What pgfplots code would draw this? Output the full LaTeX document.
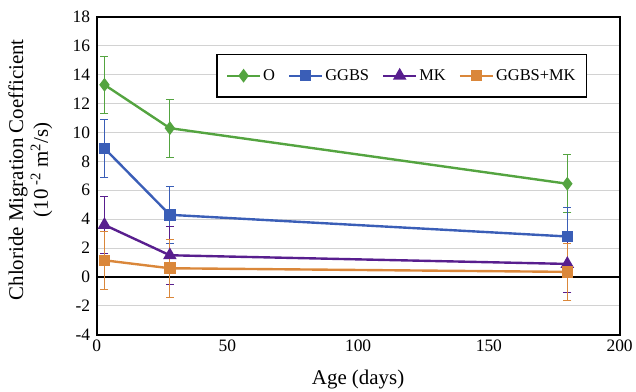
\documentclass[border=0pt]{standalone}
\usepackage{fontspec}
\setmainfont{Liberation Serif}
\usepackage{pgfplots}
\pgfplotsset{compat=1.18}
\definecolor{cO}{RGB}{84,164,64}
\definecolor{cG}{RGB}{58,94,183}
\definecolor{cM}{RGB}{88,30,142}
\definecolor{cGM}{RGB}{218,135,58}
\begin{document}
\begin{tikzpicture}
\begin{axis}[
  scale only axis,
  width=525pt, height=319pt,
  xmin=0, xmax=200, ymin=-4, ymax=18,
  xtick={0,50,100,150,200},
  ytick={-4,-2,0,2,4,6,8,10,12,14,16,18},
  major tick length=0pt,
  ymajorgrids,
  grid style={draw={rgb,255:red,210;green,210;blue,210}, line width=0.8pt},
  axis line style={black, line width=2pt},
  extra y ticks={0},
  extra y tick labels={},
  extra y tick style={grid style={black, line width=1.5pt}},
  /pgf/number format/assume math mode=true,
  tick label style={font=\fontsize{17.5}{20}\selectfont},
  xticklabel style={yshift=-2pt},
  yticklabel style={xshift=-3pt},
  xlabel={Age (days)},
  ylabel={Chloride Migration Coefficient\\(10\textsuperscript{ -2} m\textsuperscript{2}/s)},
  ylabel style={at={([xshift=-66.5pt,yshift=6pt]rel axis cs:0,0.5)}, anchor=center, inner sep=0pt,
    align=center, font=\fontsize{21}{25}\selectfont},
  xlabel style={at={([yshift=-45pt]rel axis cs:0.5,0)}, anchor=center, inner sep=0pt,
    font=\fontsize{21}{24}\selectfont},
  legend columns=-1,
  legend style={at={(0.2286,0.884)}, anchor=north west, draw=black, line width=1.6pt,
    font=\fontsize{16.5}{19}\selectfont, inner xsep=9pt, inner ysep=13pt,
    /tikz/every even column/.append style={column sep=11pt}},
  legend image code/.code={\draw[mark repeat=2,mark phase=2] plot coordinates {(0pt,0pt) (16.5pt,0pt) (33pt,0pt)};},
  error bars/y dir=both, error bars/y explicit,
  error bars/error bar style={line width=0.8pt},
  error bars/error mark options={rotate=90, mark size=4pt, line width=0.8pt},
]
\addplot[cO, line width=2.4pt, mark=diamond*, mark size=5pt, mark options={solid}] coordinates {
  (3,13.3) +- (0,2)
  (28,10.3) +- (0,2)
  (180,6.45) +- (0,2)
};
\addlegendentry{O}
\addplot[cG, line width=2.4pt, mark=square*, mark size=4.6pt] coordinates {
  (3,8.9) +- (0,2)
  (28,4.3) +- (0,2)
  (180,2.8) +- (0,2)
};
\addlegendentry{GGBS}
\addplot[cM, line width=2.4pt, mark=triangle*, mark size=5.5pt] coordinates {
  (3,3.6) +- (0,2)
  (28,1.5) +- (0,2)
  (180,0.9) +- (0,2)
};
\addlegendentry{MK}
\addplot[cGM, line width=2.4pt, mark=square*, mark size=4.6pt] coordinates {
  (3,1.15) +- (0,2)
  (28,0.6) +- (0,2)
  (180,0.35) +- (0,2)
};
\addlegendentry{GGBS+MK}
\end{axis}
\path (current axis.south west) ++(-97pt,-57pt);
\path (current axis.north east) ++(14pt,17pt);
\end{tikzpicture}
\end{document}
